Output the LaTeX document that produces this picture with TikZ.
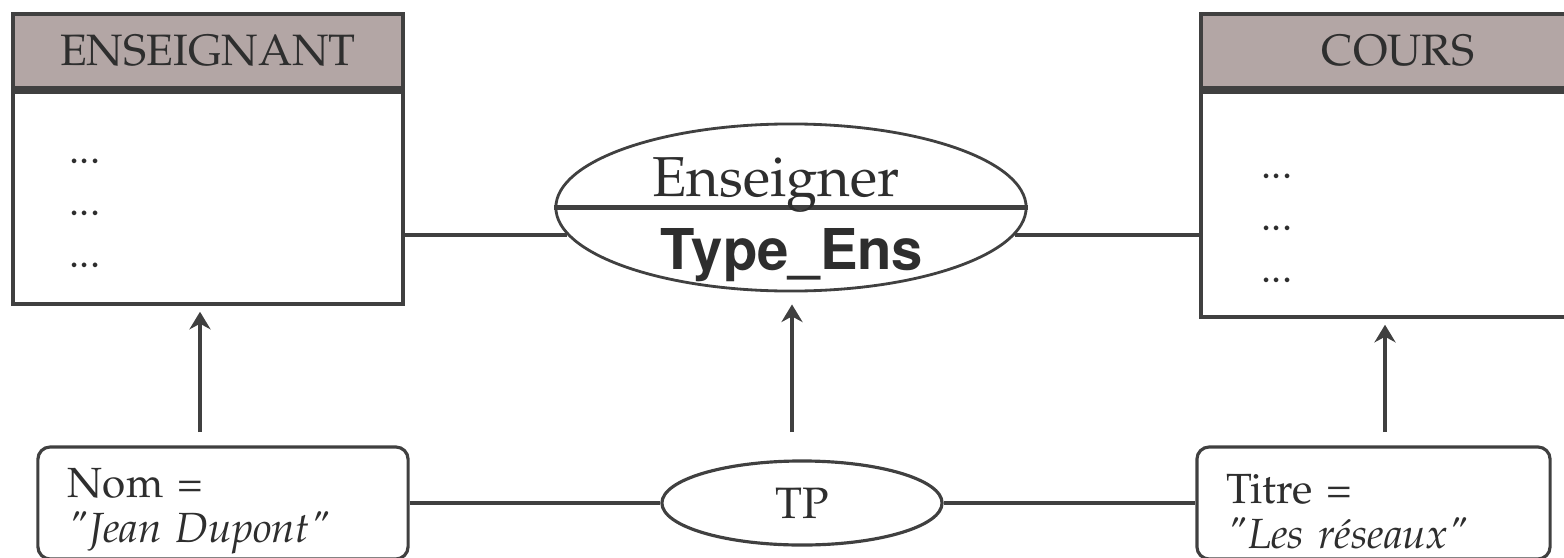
\documentclass[tikz,border=0pt]{standalone}
\usepackage[T1]{fontenc}
\usepackage{mathpazo}
\usepackage{helvet}
\usepackage{xcolor}
\definecolor{colorHeader}{HTML}{B3A6A5}
\colorlet{colorLine}{black!75}
\colorlet{colorText}{black!82}
\usepackage{tikz}
\usetikzlibrary{arrows.meta, shapes.geometric, positioning}

\begin{document}
\begin{tikzpicture}[x=0.01cm, y=0.01cm, >={Stealth[length=5pt, width=6pt, inset=1.6pt]}, every node/.style={text=colorText},
  entHead/.style={draw=colorLine, line width=1.2pt, fill=colorHeader, minimum height=0.74cm, inner sep=0, font=\fontsize{12.5}{14}\selectfont},
  entBody/.style={draw=colorLine, line width=1.2pt, inner sep=0},
  attrDots/.style={align=left, inner sep=0, font=\fontsize{11.5}{14.8}\selectfont},
  assocShape/.style={ellipse, draw=colorLine, line width=0.8pt, inner sep=0},
  valBox/.style={draw=colorLine, line width=0.9pt, rounded corners=3.5pt, align=left, inner xsep=0.3cm, inner ysep=0, minimum height=1.12cm, font=\fontsize{12}{12.8}\selectfont},
  linkLine/.style={colorLine, line width=1pt}]
\useasboundingbox (0,0) rectangle (1564,557);

% entities
\node[entHead, minimum width=3.90cm] (eHead) at (208,506) {ENSEIGNANT};
\node[entBody, minimum width=3.90cm, minimum height=2.12cm, below=0pt of eHead] (eBody) {};
\node[attrDots] (eDots) at (85,344) {...\\...\\...};
\node[entHead, minimum width=3.94cm] (cHead) at (1398,506) {COURS};
\node[entBody, minimum width=3.94cm, minimum height=2.25cm, below=0pt of cHead] (cBody) {};
\node[attrDots] (cDots) at (1277,329) {...\\...\\...};

% association
\node[assocShape, minimum width=4.70cm, minimum height=1.67cm] (rel) at (791,349.5) {};
\draw [colorLine, line width=1.2pt] (rel.west) -- (rel.east);
\node[anchor=base, font=\fontsize{16}{18}\selectfont] (relName) at (776,361) {Enseigner};
\node[anchor=base, font=\fontsize{16}{18}\sffamily\bfseries] (relAttr) at (792,288) {Type\_Ens};
\draw [linkLine] (rel.187) -- (rel.187 -| eBody.east);
\draw [linkLine] (rel.-7) -- (rel.-7 -| cBody.west);

% occurrence
\node[valBox, text width=3.10cm] (nom) at (223,54) {\rule{0pt}{13pt}Nom =\\{\itshape\textquotedbl Jean Dupont\textquotedbl}};
\node[assocShape, line width=0.9pt, minimum width=2.80cm, minimum height=0.84cm, font=\fontsize{12.5}{14}\selectfont] (tp) at (802,54) {TP};
\node[valBox, text width=2.93cm] (titre) at (1373.5,54) {\rule{0pt}{13pt}Titre =\\{\itshape\textquotedbl Les r\'eseaux\textquotedbl}};
\draw [linkLine] (nom) edge [] (tp);
\draw [linkLine] (tp) edge [] (titre);

% instance arrows
\coordinate (a1) at (200,125);
\coordinate (a2) at (792,125);
\coordinate (a3) at (1385,125);
\draw [->, linkLine, shorten >=1.5pt] (a1) -- (a1 |- eBody.south);
\draw [->, linkLine, shorten >=0.12cm] (a2) -- (a2 |- rel.south);
\draw [->, linkLine, shorten >=1.5pt] (a3) -- (a3 |- cBody.south);
\end{tikzpicture}
\end{document}
